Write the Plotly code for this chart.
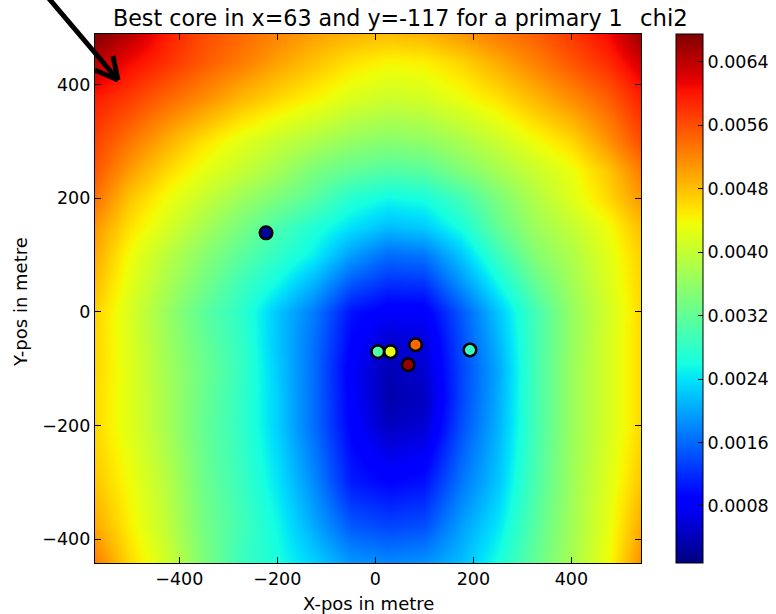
import numpy as np
import plotly.graph_objects as go

# ---------------- data ----------------
grid_x = [-572, -500, -425, -350, -275, -200, -125, -50, 25, 100, 175, 250, 325, 400, 475, 542]
grid_y = [-442, -375, -300, -200, -150, -100, -50, 0, 50, 100, 150, 200, 250, 300, 375, 440, 489]
# colour level (0 = bottom of colour bar, 1 = top) read at each grid node, rows follow grid_y
level_rows = [
    [0.78, 0.68, 0.60, 0.50, 0.42, 0.38, 0.33, 0.275, 0.26, 0.27, 0.31, 0.38, 0.47, 0.55, 0.64, 0.76],
    [0.73, 0.655, 0.58, 0.49, 0.43, 0.37, 0.29, 0.21, 0.19, 0.20, 0.28, 0.35, 0.455, 0.545, 0.63, 0.73],
    [0.70, 0.64, 0.57, 0.48, 0.42, 0.35, 0.26, 0.15, 0.125, 0.14, 0.24, 0.32, 0.44, 0.54, 0.62, 0.70],
    [0.68, 0.62, 0.55, 0.47, 0.41, 0.33, 0.23, 0.12, 0.055, 0.07, 0.20, 0.30, 0.43, 0.535, 0.61, 0.68],
    [0.68, 0.62, 0.55, 0.475, 0.41, 0.33, 0.23, 0.115, 0.04, 0.055, 0.19, 0.295, 0.43, 0.535, 0.61, 0.68],
    [0.685, 0.62, 0.545, 0.48, 0.415, 0.325, 0.23, 0.11, 0.045, 0.07, 0.19, 0.29, 0.43, 0.535, 0.61, 0.68],
    [0.685, 0.615, 0.54, 0.47, 0.41, 0.32, 0.235, 0.125, 0.07, 0.08, 0.20, 0.305, 0.43, 0.53, 0.61, 0.68],
    [0.69, 0.61, 0.535, 0.46, 0.405, 0.32, 0.245, 0.14, 0.11, 0.11, 0.21, 0.32, 0.43, 0.53, 0.605, 0.68],
    [0.71, 0.625, 0.555, 0.49, 0.425, 0.37, 0.30, 0.21, 0.17, 0.175, 0.27, 0.37, 0.47, 0.545, 0.615, 0.685],
    [0.73, 0.64, 0.575, 0.515, 0.46, 0.41, 0.36, 0.28, 0.23, 0.24, 0.32, 0.42, 0.51, 0.56, 0.625, 0.69],
    [0.75, 0.67, 0.61, 0.55, 0.495, 0.44, 0.39, 0.345, 0.31, 0.325, 0.38, 0.47, 0.54, 0.585, 0.64, 0.71],
    [0.79, 0.70, 0.64, 0.59, 0.54, 0.50, 0.455, 0.395, 0.37, 0.38, 0.43, 0.50, 0.565, 0.62, 0.68, 0.75],
    [0.82, 0.745, 0.68, 0.63, 0.59, 0.55, 0.50, 0.47, 0.45, 0.46, 0.505, 0.55, 0.595, 0.635, 0.70, 0.78],
    [0.84, 0.785, 0.725, 0.67, 0.625, 0.59, 0.56, 0.53, 0.515, 0.525, 0.555, 0.595, 0.64, 0.68, 0.755, 0.83],
    [0.88, 0.845, 0.80, 0.76, 0.715, 0.68, 0.65, 0.615, 0.595, 0.605, 0.635, 0.67, 0.715, 0.76, 0.81, 0.875],
    [0.95, 0.90, 0.86, 0.815, 0.78, 0.74, 0.705, 0.67, 0.65, 0.655, 0.685, 0.73, 0.775, 0.82, 0.865, 0.93],
    [1.00, 0.95, 0.88, 0.83, 0.80, 0.77, 0.74, 0.72, 0.71, 0.72, 0.75, 0.78, 0.81, 0.85, 0.90, 0.98],
]
chi2_min = 0.00008
chi2_max = 0.00675
cbar_ticks = [0.0008, 0.0016, 0.0024, 0.0032, 0.0040, 0.0048, 0.0056, 0.0064]

det_x = [-223, 5, 31, 82, 67, 193]
det_y = [139, -70, -70, -58, -93, -67]
det_level = [0.03, 0.45, 0.63, 0.80, 0.98, 0.42]   # colour level (0-1) on jet

x_ticks = [-400, -200, 0, 200, 400]
y_ticks = [-400, -200, 0, 200, 400]
x_range = [-572, 542]
y_range = [-442, 489]

title_text = "Best core in x=63 and y=-117 for a primary 1"

# ---------------- matplotlib "jet" colour scale ----------------
def jet(t):
    r = np.interp(t, [0, 0.35, 0.66, 0.89, 1], [0, 0, 1, 1, 0.5])
    g = np.interp(t, [0, 0.125, 0.375, 0.64, 0.91, 1], [0, 0, 1, 1, 0, 0])
    b = np.interp(t, [0, 0.11, 0.34, 0.65, 1], [0.5, 1, 1, 0, 0])
    return "rgb(%d,%d,%d)" % (round(r * 255), round(g * 255), round(b * 255))

stops = np.linspace(0, 1, 65)
jet_scale = [[float(s), jet(s)] for s in stops]

def fmt_minus(v):
    return ("\u2212" + str(abs(v))) if v < 0 else str(v)

FONT = "DejaVu Sans"
# colour level -> chi2 units
z = chi2_min + np.array(level_rows) * (chi2_max - chi2_min)

fig = go.Figure()
fig.add_trace(go.Heatmap(
    x=grid_x, y=grid_y, z=z, zsmooth="best",
    colorscale=jet_scale, zmin=chi2_min, zmax=chi2_max,
    colorbar=dict(
        x=(676 - 95) / 546, xanchor="left", xref="paper",
        y=0.5, yanchor="middle", len=1.0, lenmode="fraction",
        thickness=27, thicknessmode="pixels",
        outlinewidth=1, outlinecolor="black",
        ticks="inside", ticklen=5, tickcolor="black", tickwidth=1,
        tickvals=cbar_ticks, ticktext=["%.4f" % v for v in cbar_ticks],
        tickfont=dict(family=FONT, size=17.5, color="black"),
        xpad=0, ypad=0,
    ),
    hoverinfo="skip",
))
fig.add_trace(go.Scatter(
    x=det_x, y=det_y, mode="markers",
    marker=dict(size=12.5, color=det_level, colorscale=jet_scale, cmin=0, cmax=1,
                line=dict(color="black", width=2.5)),
    showlegend=False, hoverinfo="skip",
))

axis_common = dict(
    showgrid=False, zeroline=False, ticks="inside", ticklen=6, tickwidth=1,
    tickcolor="black", showline=True, linecolor="black", linewidth=1.2,
    mirror="ticks", tickfont=dict(family=FONT, size=17.5, color="black"),
)
fig.update_xaxes(range=x_range, tickvals=x_ticks,
                 ticktext=[fmt_minus(v) for v in x_ticks], **axis_common)
fig.update_yaxes(range=y_range, tickvals=y_ticks,
                 ticktext=[fmt_minus(v) for v in y_ticks], **axis_common)

# texts
fig.add_annotation(text=title_text, xref="paper", yref="paper", x=0.5,
                   y=(563 - 18) / 529, showarrow=False, yanchor="middle",
                   font=dict(family=FONT, size=22.2, color="black"))
fig.add_annotation(text="X-pos in metre", xref="paper", yref="paper", x=0.5,
                   y=(563 - 603) / 529, showarrow=False, yanchor="middle",
                   font=dict(family=FONT, size=18, color="black"))
fig.add_annotation(text="Y-pos in metre", xref="paper", yref="paper",
                   x=(20 - 95) / 546, y=(563 - 302) / 529, textangle=-90,
                   showarrow=False, xanchor="center", yanchor="middle",
                   font=dict(family=FONT, size=18, color="black"))
fig.add_annotation(text="chi2", xref="paper", yref="paper",
                   x=(690 - 95) / 546, y=(563 - 18) / 529, showarrow=False,
                   yanchor="middle", font=dict(family=FONT, size=22.8, color="black"))

# arrow pointing at the top-left corner
def px(xp, yp):
    return (xp - 95) / 546, (563 - yp) / 529

tip = px(118, 80)
tail = px(40, -12)
h1 = px(113, 56)
h2 = px(95, 70)
for a, b in [(tail, tip), (h1, tip), (h2, tip)]:
    fig.add_shape(type="line", xref="paper", yref="paper",
                  x0=a[0], y0=a[1], x1=b[0], y1=b[1],
                  line=dict(color="black", width=5), layer="above")

fig.update_layout(
    width=776, height=614,
    margin=dict(l=95, r=135, t=34, b=51, autoexpand=False),
    paper_bgcolor="white", plot_bgcolor="white",
    showlegend=False,
    font=dict(family=FONT, color="black"),
)

fig.write_html("out.html")
